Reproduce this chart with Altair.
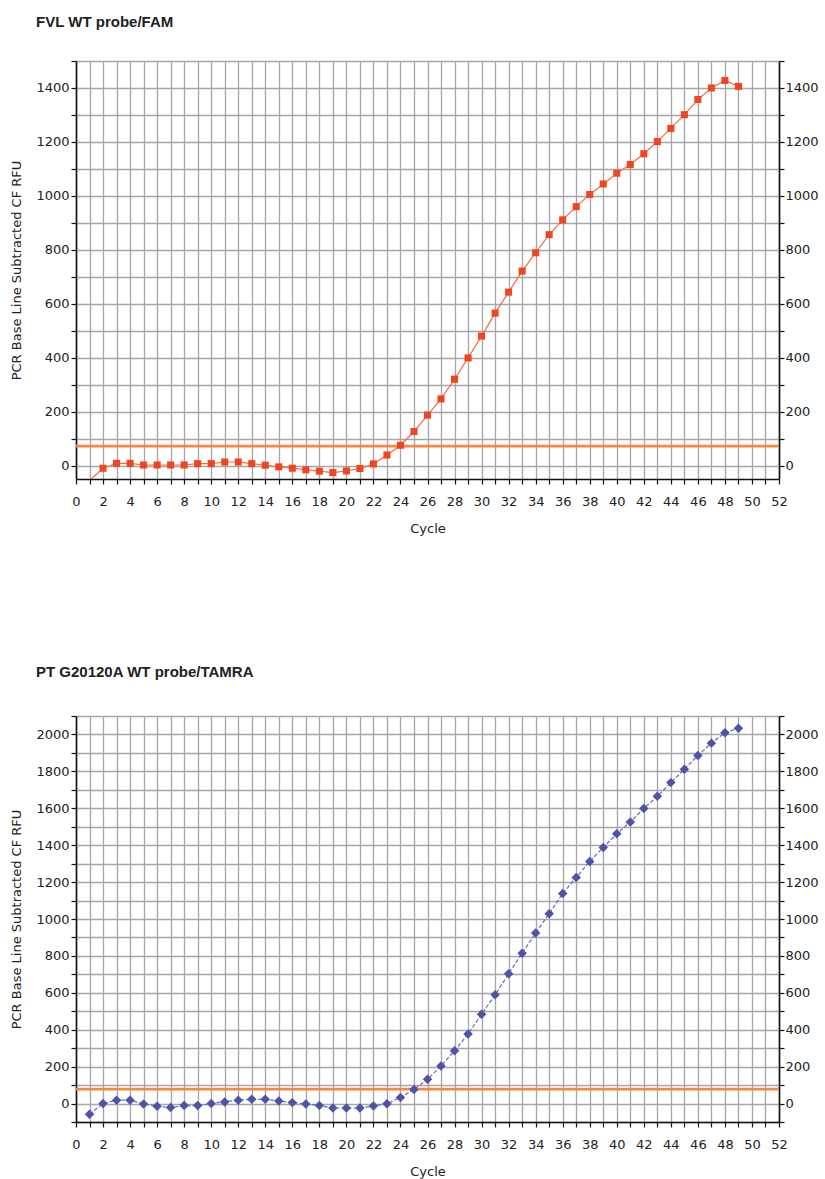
import altair as alt
import pandas as pd

# Amplification curves, baseline-subtracted RFU per cycle
cycles = list(range(1, 50))
fam_rfu = [-55, -10, 8, 8, 2, 2, 2, 2, 7, 7, 13, 13, 7, 1, -5, -10, -16, -21, -26, -20,
           -11, 6, 39, 75, 126, 187, 247, 320, 399, 480, 565, 643, 721, 789, 856, 911,
           960, 1005, 1044, 1084, 1116, 1156, 1201, 1250, 1301, 1357, 1400, 1428, 1406]
tamra_rfu = [-58, 0, 18, 18, -2, -15, -22, -11, -11, 0, 9, 18, 23, 23, 14, 5, -2, -11,
             -24, -24, -24, -13, -1, 33, 76, 132, 203, 286, 377, 484, 589, 703, 815, 924,
             1029, 1138, 1225, 1312, 1388, 1462, 1525, 1599, 1665, 1739, 1811, 1886, 1953,
             2009, 2034]

fam_threshold = 72
tamra_threshold = 78

AXIS_FONT = "DejaVu Sans"
TEXT = "#222222"
GRID = "#a6a6aa"
Y_TITLE = "PCR Base Line Subtracted CF RFU"


def panel(title, values, threshold, y_domain, tick_start, height,
          shape, marker_color, line_color, dash, marker_size, title_offset):
    df = pd.DataFrame({"Cycle": cycles, "RFU": values})
    thr = pd.DataFrame({"threshold": [threshold]})

    x_enc = alt.X(
        "Cycle:Q",
        scale=alt.Scale(domain=[0, 52], nice=False, zero=False),
        axis=alt.Axis(
            values=list(range(0, 53)),
            format="d",
            labelExpr="datum.value % 2 == 0 ? datum.label : ''",
            title="Cycle",
            grid=True,
            gridColor=GRID,
            gridWidth=1.3,
            tickSize=5,
            labelPadding=11,
            titlePadding=14,
            labelFlush=False,
        ),
    )
    y_scale = alt.Scale(domain=y_domain, nice=False, zero=False)
    y_ticks = list(range(tick_start, y_domain[1] + 1, 100))
    label_expr = (
        f"datum.value % 200 == 0 && datum.value < {y_domain[1] - 50} ? datum.label : ''"
    )

    y_left = alt.Axis(
        orient="left",
        values=y_ticks,
        format="d",
        labelExpr=label_expr,
        title=Y_TITLE,
        grid=True,
        gridColor=GRID,
        gridWidth=1.3,
        tickSize=5,
        labelPadding=2,
        titlePadding=12,
        labelFlush=False,
    )
    y_right = alt.Axis(
        orient="right",
        values=y_ticks,
        format="d",
        labelExpr=label_expr,
        title=None,
        grid=False,
        tickSize=5,
        labelPadding=1,
        labelFlush=False,
    )

    rule = alt.Chart(thr).mark_rule(color="#f7873f", strokeWidth=2.6).encode(
        y=alt.Y("threshold:Q", scale=y_scale, axis=y_right)
    )
    line_kw = dict(color=line_color, strokeWidth=1.2, clip=True)
    if dash:
        line_kw["strokeDash"] = dash
    line = alt.Chart(df).mark_line(**line_kw).encode(
        x=x_enc,
        y=alt.Y("RFU:Q", scale=y_scale, axis=y_left),
    )
    points = (
        alt.Chart(df)
        .transform_filter(f"datum.RFU >= {y_domain[0]}")
        .mark_point(shape=shape, filled=True, size=marker_size,
                    color=marker_color, opacity=1)
        .encode(x=x_enc, y=alt.Y("RFU:Q", scale=y_scale, axis=None))
    )

    return (
        alt.layer(rule, line, points)
        .resolve_axis(y="independent")
        .properties(
            width=703,
            height=height,
            title=alt.TitleParams(
                title,
                anchor="start",
                frame="group",
                dx=-40,
                offset=title_offset,
                font="Liberation Sans",
                fontSize=15,
                fontWeight="bold",
                color=TEXT,
            ),
        )
    )


top = panel("FVL WT probe/FAM", fam_rfu, fam_threshold, [-50, 1500], 0, 418,
            "square", "#f0451f", "#f36b4b", None, 50, 30)
bottom = panel("PT G20120A WT probe/TAMRA", tamra_rfu, tamra_threshold, [-100, 2100], -100, 406,
               "diamond", "#4f53a6", "#6569b8", [4, 2], 90, 35)

chart = (
    alt.vconcat(top, bottom, spacing=130)
    .properties(padding={"left": 10, "top": 15, "right": 5, "bottom": 5},
                background="white")
    .configure_view(stroke=None)
    .configure_axis(
        labelFont=AXIS_FONT,
        labelFontSize=13,
        labelColor=TEXT,
        titleFont=AXIS_FONT,
        titleFontSize=13,
        titleFontWeight="normal",
        titleColor=TEXT,
        domainColor="#111111",
        domainWidth=1.6,
        tickColor="#111111",
        tickWidth=1.2,
    )
)

chart.save("out.html", embed_options={"renderer": "svg", "actions": False})
